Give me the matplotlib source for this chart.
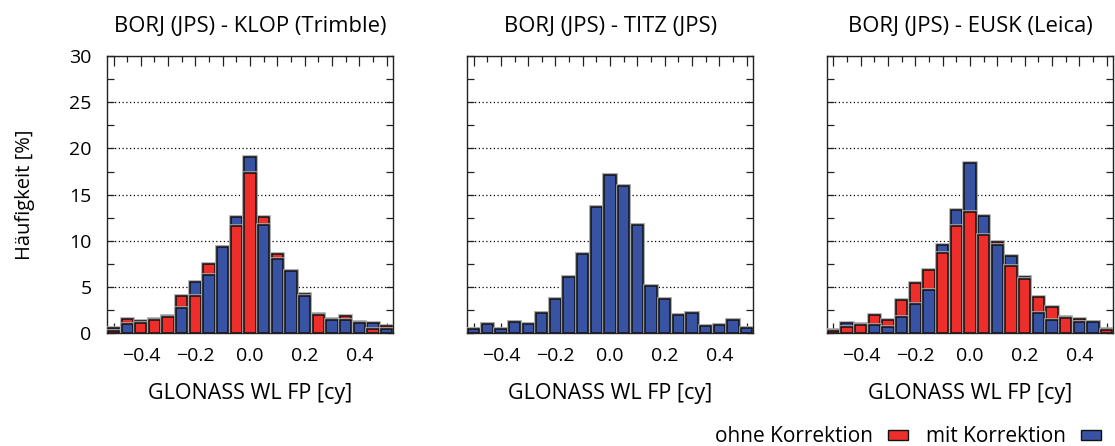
import matplotlib
matplotlib.use('Agg')
import matplotlib.pyplot as plt
import matplotlib.patheffects as pe
from matplotlib.patches import Patch
from matplotlib.ticker import MultipleLocator
import numpy as np

# Bin centres of the fractional-part histograms [cy]
bins = [-0.50, -0.45, -0.40, -0.35, -0.30, -0.25, -0.20, -0.15, -0.10, -0.05,
        0.00, 0.05, 0.10, 0.15, 0.20, 0.25, 0.30, 0.35, 0.40, 0.45, 0.50]

titles = ['BORJ (JPS) - KLOP (Trimble)',
          'BORJ (JPS) - TITZ (JPS)',
          'BORJ (JPS) - EUSK (Leica)']

xtick_labels = ['', '\u22120.4', '', '\u22120.2', '', '0.0', '',
                '0.2', '', '0.4', '']

# Relative frequency [%] without correction
klop_ohne = [0.2, 1.6, 1.15, 1.45, 1.75, 4.0, 4.0, 7.5, 9.3, 11.6,
             17.3, 12.55, 8.6, 6.7, 4.3, 2.0, 1.6, 1.85, 1.25, 0.5, 0.8]
titz_ohne = [0.47, 1.05, 0.47, 1.23, 1.05, 2.15, 3.75, 6.1, 8.55, 13.65,
             17.1, 15.95, 11.7, 5.15, 3.75, 2.0, 2.15, 0.8, 0.87, 1.4, 0.58]
eusk_ohne = [0.3, 0.65, 0.95, 1.95, 1.4, 3.6, 5.45, 6.8, 8.7, 11.6,
             13.1, 10.6, 9.85, 7.3, 5.9, 3.9, 2.8, 1.7, 1.6, 1.2, 0.4]

# Relative frequency [%] with correction
klop_mit = [0.6, 1.0, 1.3, 1.5, 1.9, 2.75, 5.6, 6.3, 9.3, 12.55,
            19.1, 11.7, 8.0, 6.7, 4.0, 2.1, 1.4, 1.4, 1.1, 1.15, 0.43]
titz_mit = [0.47, 1.05, 0.47, 1.23, 1.05, 2.15, 3.75, 6.1, 8.55, 13.65,
            17.1, 15.95, 11.7, 5.15, 3.75, 2.0, 2.15, 0.8, 0.87, 1.4, 0.58]
eusk_mit = [0.32, 1.08, 0.97, 0.87, 0.72, 1.77, 3.17, 4.7, 9.6, 13.3,
            18.45, 12.65, 9.6, 8.35, 6.05, 2.2, 1.4, 1.75, 1.25, 1.2, 0.43]

ohne = [klop_ohne, titz_ohne, eusk_ohne]
mit = [klop_mit, titz_mit, eusk_mit]

RED = '#ee2e2b'
BLUE = '#3953a4'

plt.rcParams['font.family'] = 'Open Sans'
plt.rcParams['font.size'] = 14
plt.rcParams['axes.unicode_minus'] = True

fig = plt.figure(figsize=(11.15, 4.46), dpi=100)
lefts = [0.0957, 0.4186, 0.7414]
halo = [pe.Stroke(linewidth=2.6, foreground='#a8a8a8'), pe.Normal()]

for i, left in enumerate(lefts):
    ax = fig.add_axes([left, 0.2527, 0.2571, 0.6217])
    for k, x in enumerate(bins):
        r, b = ohne[i][k], mit[i][k]
        # taller bar behind, shorter one in front (blue wins a tie)
        order = [(r, RED), (b, BLUE)] if r >= b else [(b, BLUE), (r, RED)]
        for z, (h, c) in enumerate(order):
            ax.bar(x, h, width=0.0415, color=c, edgecolor='#111111',
                   linewidth=1.1, zorder=3 + z, path_effects=halo)
    ax.set_xlim(-0.525, 0.525)
    ax.set_ylim(0, 30)
    ax.xaxis.set_minor_locator(MultipleLocator(0.05))
    ax.yaxis.set_major_locator(MultipleLocator(5))
    ax.yaxis.set_minor_locator(MultipleLocator(2.5))
    ax.set_xticks(np.arange(-0.5, 0.51, 0.1))
    ax.set_xticklabels(xtick_labels)
    ax.tick_params(which='both', direction='in', top=True, right=True,
                   width=0.9, color='#222222', labelsize=14)
    ax.tick_params(axis='x', which='major', length=7.5, pad=10)
    ax.tick_params(axis='x', which='minor', length=4)
    ax.tick_params(axis='y', which='both', length=5, pad=11)
    for s in ax.spines.values():
        s.set_linewidth(1.0)
        s.set_color('#222222')
    ax.grid(axis='y', which='major', linestyle=(0, (1, 2)), color='black',
            linewidth=0.9, zorder=1)
    ax.set_axisbelow(True)
    if i > 0:
        ax.set_yticklabels([])
    else:
        ax.set_ylabel('Häufigkeit [%]', fontsize=14.5)
        ax.yaxis.set_label_coords(-0.25, 0.5)
    ax.set_title(titles[i], pad=17, fontsize=15.8)
    ax.set_xlabel('GLONASS WL FP [cy]', labelpad=13, fontsize=15.5)

handles = [Patch(facecolor=RED, edgecolor='#111111'),
           Patch(facecolor=BLUE, edgecolor='#111111')]
fig.legend(handles, ['ohne Korrektion', 'mit Korrektion'], ncol=2,
           markerfirst=False, frameon=False, loc='lower right',
           bbox_to_anchor=(1.004, -0.045), handlelength=0.96,
           handleheight=0.4, columnspacing=0.87, handletextpad=0.7,
           fontsize=15)

fig.savefig('out.png', dpi=100)
